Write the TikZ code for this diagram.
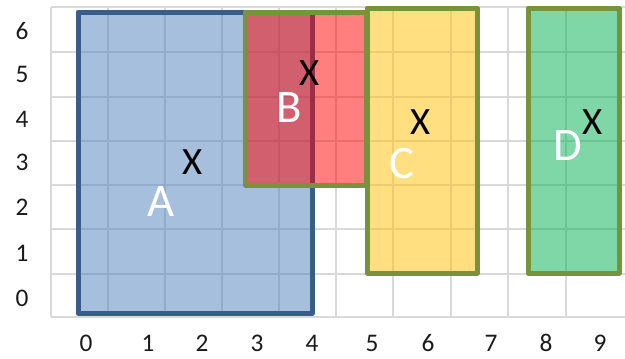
\documentclass[tikz,border=0pt]{standalone}
\usepackage{fontspec}
\setmainfont{Carlito}
\definecolor{gridc}{HTML}{D9D9D9}
\definecolor{afill}{HTML}{4F81BD}
\definecolor{aline}{HTML}{385D8A}
\definecolor{bfill}{HTML}{FF0000}
\definecolor{cfill}{HTML}{FFC000}
\definecolor{dfill}{HTML}{00B050}
\definecolor{gline}{HTML}{77933C}
\definecolor{labc}{HTML}{1A1A1A}
\tikzset{
  gridline/.style={draw=gridc, line width=1.5pt},
  boxfill/.style={fill opacity=0.5},
  boxline/.style={line width=3.75pt, line join=round},
  axislab/.style={inner sep=0pt, text=labc, font=\fontsize{19}{19}\selectfont},
  boxlab/.style={inner sep=0pt, text=white, font=\fontsize{35}{35}\selectfont},
  xmark/.style={inner sep=0pt, text=black, font=\fontsize{29}{29}\selectfont},
}
\begin{document}
\begin{tikzpicture}[x=0.75pt, y=-0.75pt]
\useasboundingbox (0,0) rectangle (625,358);
\fill[white] (0,0) rectangle (625,358);
% grid
\foreach \gx in {51,108,165,222,279,336,393,451,508,566}
  \draw[gridline] (\gx,7) -- (\gx,317);
\foreach \gy in {7,52,97,141,185,229,274,317}
  \draw[gridline] (51,\gy) -- (625,\gy);
% A
\fill[afill, boxfill] (78,12) rectangle (312,313);
\draw[aline, boxline] (78,12) rectangle (312,313);
% B
\fill[bfill, boxfill] (245,12) rectangle (366,185);
\draw[gline, boxline] (245,12) rectangle (366,185);
% C
\fill[cfill, boxfill] (367,8) rectangle (477,273);
\draw[gline, boxline] (367,8) rectangle (477,273);
% D
\fill[dfill, boxfill] (528,8) rectangle (619,273);
\draw[gline, boxline] (528,8) rectangle (619,273);
% box labels
\node[boxlab] (la) at (161,202) {A};
\node[boxlab] (lb) at (289,108) {B};
\node[boxlab] (lc) at (402,164) {C};
\node[boxlab] (ld) at (568,146) {D};
% centre marks
\node[xmark] (xa) at (193,162) {X};
\node[xmark] (xb) at (310,73) {X};
\node[xmark] (xc) at (421,122) {X};
\node[xmark] (xd) at (593,122) {X};
% y axis labels
\node[axislab] (y6) at (22,31) {6};
\node[axislab] (y5) at (22,74) {5};
\node[axislab] (y4) at (22,119) {4};
\node[axislab] (y3) at (22,162) {3};
\node[axislab] (y2) at (22,207) {2};
\node[axislab] (y1) at (22,253) {1};
\node[axislab] (y0) at (22,298) {0};
% x axis labels
\node[axislab] (x0) at (86,343) {0};
\node[axislab] (x1) at (148,343) {1};
\node[axislab] (x2) at (202,343) {2};
\node[axislab] (x3) at (257,343) {3};
\node[axislab] (x4) at (312,343) {4};
\node[axislab] (x5) at (372,343) {5};
\node[axislab] (x6) at (428,343) {6};
\node[axislab] (x7) at (491,343) {7};
\node[axislab] (x8) at (546,343) {8};
\node[axislab] (x9) at (600,343) {9};
\end{tikzpicture}
\end{document}
